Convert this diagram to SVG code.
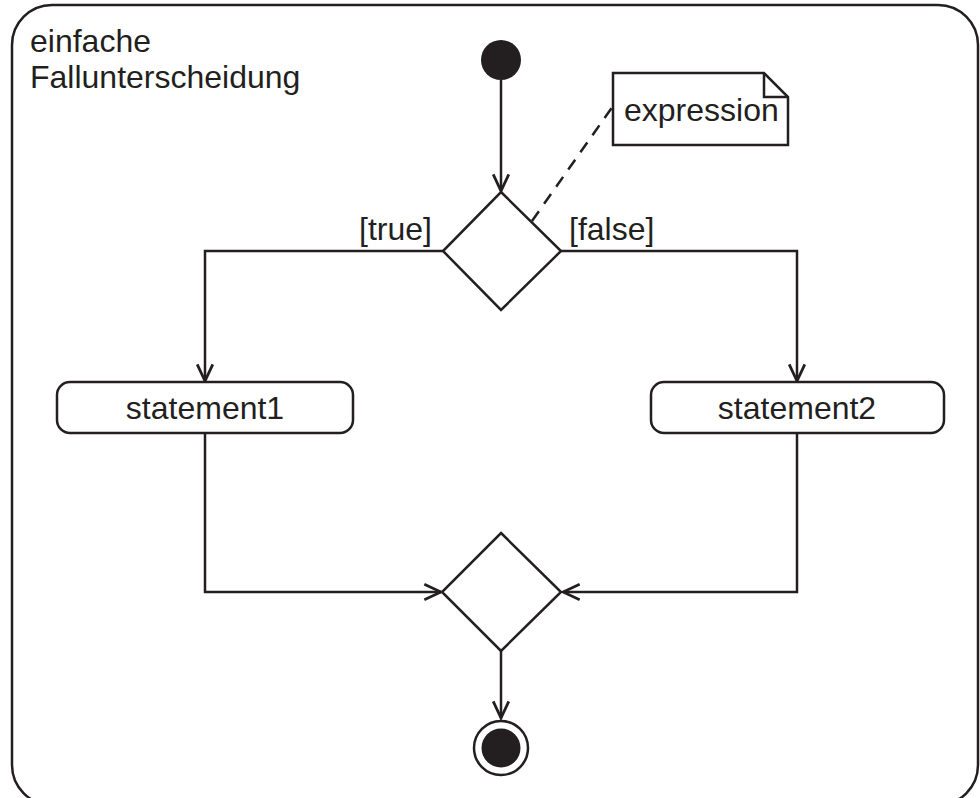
<svg xmlns="http://www.w3.org/2000/svg" width="980" height="798" viewBox="0 0 980 798">
<style>
.s{fill:none;stroke:#231f20;stroke-width:2.5}
.w{fill:#fff;stroke:#231f20;stroke-width:2.5}
.t{font-family:"Liberation Sans",Arial,sans-serif;font-size:32px;fill:#231f20}
.c{text-anchor:middle}
</style>
<defs>
<marker id="a" markerUnits="userSpaceOnUse" markerWidth="20" markerHeight="20" viewBox="-16 -8 18 16" refX="0" refY="0" orient="auto">
<path d="M-15,-7 L0,0 L-15,7" fill="none" stroke="#231f20" stroke-width="2.5"/>
</marker>
</defs>
<rect width="980" height="798" fill="#fff"/>
<g id="frame">
<rect class="s" x="12" y="5" width="966" height="800" rx="40"/>
<text class="t" x="30" y="52">einfache</text>
<text class="t" x="30" y="88">Fallunterscheidung</text>
</g>
<g id="connectors">
<line class="s" x1="501" y1="80" x2="501" y2="191" marker-end="url(#a)"/>
<polyline class="s" points="443,251 205,251 205,381" marker-end="url(#a)"/>
<polyline class="s" points="561,251 797,251 797,381" marker-end="url(#a)"/>
<polyline class="s" points="205,433 205,592 441,592" marker-end="url(#a)"/>
<polyline class="s" points="797,433 797,592 563,592" marker-end="url(#a)"/>
<line class="s" x1="501" y1="651" x2="501" y2="718" marker-end="url(#a)"/>
<line class="s" x1="532" y1="221" x2="613" y2="106" stroke-dasharray="12,9"/>
<text class="t" x="432" y="240" text-anchor="end">[true]</text>
<text class="t" x="569" y="240">[false]</text>
</g>
<g id="start"><circle cx="501" cy="60" r="20" fill="#231f20"/></g>
<g id="decision"><polygon class="w" points="501,192 561,251 501,310 443,251"/></g>
<g id="note">
<path class="w" d="M613,73 H764 L788,97 V145 H613 Z"/>
<path class="s" d="M764,73 V97 H788"/>
<text class="t" x="624" y="121">expression</text>
</g>
<g id="statement1">
<rect class="w" x="57" y="382" width="296" height="51" rx="13"/>
<text class="t c" x="205" y="419">statement1</text>
</g>
<g id="statement2">
<rect class="w" x="651" y="382" width="293" height="51" rx="13"/>
<text class="t c" x="797" y="419">statement2</text>
</g>
<g id="merge"><polygon class="w" points="501,533 561,592 501,651 442,592"/></g>
<g id="end">
<circle cx="501" cy="748" r="27" fill="#fff" stroke="#231f20" stroke-width="2.5"/>
<circle cx="501" cy="748" r="19.5" fill="#231f20"/>
</g>
</svg>
